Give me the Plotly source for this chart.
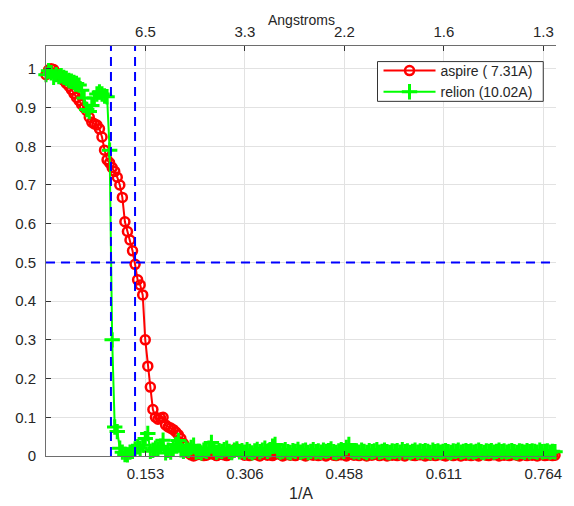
import numpy as np
import plotly.graph_objects as go

# ---------------- data ----------------
n_points = 201
freq_step = 0.00391                     # shell spacing (1/A)
freq = np.round(np.arange(n_points) * freq_step, 5)

aspire_fsc = [
    0.985, 0.997, 1.0, 0.998, 0.99, 0.984, 0.977, 0.97, 0.962, 0.955,
    0.946, 0.936, 0.926, 0.918, 0.908, 0.9, 0.892, 0.875, 0.862, 0.858,
    0.855, 0.845, 0.824, 0.79, 0.765, 0.757, 0.745, 0.735, 0.72, 0.70,
    0.668, 0.605, 0.58, 0.558, 0.53, 0.495, 0.455, 0.442, 0.416, 0.30,
    0.232, 0.178, 0.12, 0.10, 0.095, 0.098, 0.10, 0.08, 0.075, 0.072,
    0.068, 0.062, 0.055, 0.045, 0.032, 0.016, 0.008, 0.003,
    0.0, 0.003, 0.006, 0.004, 0.001, 0.002, 0.005, 0.008, 0.004, 0.001,
    0.004, 0.007, 0.003, 0.001, 0.004, 0.01, 0.016, 0.018, 0.013, 0.006,
    0.002, 0.004, 0.001, 0.005, 0.007, 0.003, 0.0, 0.004, 0.006, 0.002,
    0.004, 0.001, 0.005, 0.008, 0.004, 0.0, 0.003, 0.006, 0.002, 0.004,
    0.001, 0.004, 0.007, 0.003, 0.0, 0.005, 0.004, 0.002, 0.006, 0.001,
    0.003, 0.005, 0.0, 0.004, 0.007, 0.002, 0.001, 0.005, 0.003, 0.004,
    0.0, 0.004, 0.006, 0.002, 0.004, 0.001, 0.005, 0.003, 0.0, 0.004,
    0.002, 0.004, 0.006, 0.001, 0.003, 0.005, 0.0, 0.004, 0.002, 0.004,
    0.001, 0.006, 0.003, 0.0, 0.004, 0.005, 0.002, 0.001, 0.004, 0.003,
    0.004, 0.0, 0.005, 0.002, 0.004, 0.001, 0.003, 0.006, 0.002, 0.0,
    0.004, 0.005, 0.001, 0.003, 0.004, 0.0, 0.004, 0.002, 0.005, 0.001,
    0.003, 0.004, 0.0, 0.004, 0.006, 0.002, 0.001, 0.004, 0.003, 0.005,
    0.0, 0.004, 0.002, 0.004, 0.001, 0.003, 0.005, 0.002, 0.0, 0.004,
    0.003, 0.001, 0.004, 0.002, 0.004, 0.0, 0.003, 0.005, 0.001, 0.002,
    0.004, 0.001, 0.002,
]

relion_fsc = [
    0.985, 0.995, 0.99, 0.978, 0.985, 0.98, 0.982, 0.978, 0.975, 0.97,
    0.968, 0.965, 0.962, 0.958, 0.945, 0.925, 0.895, 0.89, 0.905, 0.925,
    0.935, 0.94, 0.935, 0.93, 0.928, 0.79, 0.30,
    0.075, 0.063, 0.02, 0.01, 0.004, 0.003, 0.01, 0.012, 0.018, 0.024,
    0.02, 0.028, 0.045, 0.058, 0.012, 0.015, 0.02, 0.018, 0.025, 0.041,
    0.008, 0.015, 0.01, 0.018, 0.03, 0.04, 0.016, 0.012, 0.02, 0.015,
    0.022, 0.028, 0.01, 0.012, 0.008, 0.015, 0.012, 0.02, 0.035, 0.018,
    0.01, 0.014, 0.012, 0.016, 0.02, 0.012, 0.009, 0.015, 0.018, 0.011,
    0.014, 0.01, 0.016, 0.012, 0.008, 0.013, 0.017, 0.011, 0.015, 0.02,
    0.012, 0.016, 0.025, 0.03, 0.014, 0.01, 0.013, 0.016, 0.011, 0.009,
    0.014, 0.012, 0.017, 0.01, 0.013, 0.015, 0.009, 0.012, 0.016, 0.011,
    0.013, 0.01, 0.015, 0.012, 0.014, 0.018, 0.011, 0.009, 0.013, 0.016,
    0.012, 0.022, 0.03, 0.014, 0.011, 0.013, 0.01, 0.015, 0.012, 0.009,
    0.014, 0.011, 0.013, 0.016, 0.01, 0.012, 0.015, 0.011, 0.009, 0.013,
    0.012, 0.014, 0.01, 0.016, 0.011, 0.013, 0.009, 0.012, 0.015, 0.01,
    0.013, 0.011, 0.014, 0.012, 0.009, 0.015, 0.011, 0.013, 0.01, 0.012,
    0.014, 0.011, 0.009, 0.013, 0.012, 0.015, 0.01, 0.012, 0.014, 0.011,
    0.013, 0.01, 0.012, 0.015, 0.011, 0.009, 0.013, 0.012, 0.014, 0.01,
    0.012, 0.015, 0.011, 0.013, 0.01, 0.012, 0.014, 0.011, 0.009, 0.013,
    0.012, 0.01, 0.014, 0.011, 0.013, 0.012, 0.01, 0.015, 0.011, 0.012,
    0.013, 0.01, 0.012, 0.011,
]

series_names = ["aspire ( 7.31A)", "relion (10.02A)"]
resolutions = [7.31, 10.02]          # Angstrom, where FSC crosses 0.5
threshold = 0.5

xtick_vals = [0.1528, 0.3056, 0.4584, 0.6112, 0.764]
xtick_labels = ["0.153", "0.306", "0.458", "0.611", "0.764"]
angstrom_labels = ["6.5", "3.3", "2.2", "1.6", "1.3"]

# ---------------- figure ----------------
FONT = "Liberation Sans, Arial, sans-serif"
TXT = "#262626"
AXC = "#6e6e6e"
GRID = "#e2e2e2"
x_range = [0, 0.7835]
y_range = [0, 1.059]

fig = go.Figure()

fig.add_trace(go.Scatter(
    x=freq, y=aspire_fsc, name=series_names[0], mode="lines+markers",
    line=dict(color="#ff0000", width=2),
    marker=dict(symbol="circle-open", size=9, color="#ff0000",
                line=dict(width=2.5, color="#ff0000")),
    cliponaxis=False,
))
fig.add_trace(go.Scatter(
    x=freq, y=relion_fsc, name=series_names[1], mode="lines+markers",
    line=dict(color="#00ff00", width=2),
    marker=dict(symbol="cross-thin-open", size=11, color="#00ff00",
                line=dict(width=3, color="#00ff00")),
    cliponaxis=False,
))
# invisible trace to carry the top (Angstrom) axis
fig.add_trace(go.Scatter(x=[x_range[0]], y=[0], xaxis="x2", mode="markers",
                         marker=dict(opacity=0), showlegend=False,
                         hoverinfo="skip"))

dash = "9px,6px"
for r in resolutions:
    fig.add_shape(type="line", xref="x", yref="paper",
                  x0=1.0 / r, x1=1.0 / r, y0=0, y1=1,
                  line=dict(color="#0000ff", width=2, dash=dash))
fig.add_shape(type="line", xref="paper", yref="y",
              x0=0, x1=1, y0=threshold, y1=threshold,
              line=dict(color="#0000ff", width=2, dash=dash))

# legend frame
fig.add_shape(type="rect", xref="paper", yref="paper",
              x0=0.650, x1=0.975, y0=0.865, y1=0.962,
              line=dict(color="#333333", width=1), fillcolor="white",
              layer="above")

axis_common = dict(
    showline=True, linecolor=AXC, linewidth=1,
    ticks="inside", ticklen=5, tickwidth=1, tickcolor="#333333",
    tickfont=dict(family=FONT, size=15, color=TXT),
    zeroline=False,
)

fig.update_layout(
    width=574, height=506,
    margin=dict(l=46, r=12, t=46, b=50),
    paper_bgcolor="white", plot_bgcolor="white",
    font=dict(family=FONT, color=TXT),
    showlegend=True,
    legend=dict(
        x=0.652, y=0.9135, xanchor="left", yanchor="middle",
        bgcolor="rgba(0,0,0,0)", borderwidth=0,
        font=dict(family=FONT, size=14, color=TXT),
        itemwidth=52, tracegroupgap=0,
    ),
    xaxis=dict(
        range=x_range, tickmode="array", tickvals=xtick_vals,
        ticktext=xtick_labels, showgrid=True, gridcolor=GRID, gridwidth=1,
        ticklabelstandoff=4, **axis_common,
    ),
    xaxis2=dict(
        range=x_range, overlaying="x", side="top", tickmode="array",
        tickvals=xtick_vals, ticktext=angstrom_labels, showgrid=False,
        ticklabelstandoff=2, **axis_common,
    ),
    yaxis=dict(
        range=y_range, tick0=0, dtick=0.1, showgrid=True, gridcolor=GRID,
        gridwidth=1, ticklabelstandoff=6, **axis_common,
    ),
    annotations=[
        dict(text="1/A", xref="paper", yref="paper", x=0.5, y=-0.092,
             xanchor="center", yanchor="middle", showarrow=False,
             font=dict(family=FONT, size=16, color=TXT)),
        dict(text="Angstroms", xref="paper", yref="paper", x=0.5, y=1.063,
             xanchor="center", yanchor="middle", showarrow=False,
             font=dict(family=FONT, size=14, color=TXT)),
    ],
)

fig.write_html("out.html")
